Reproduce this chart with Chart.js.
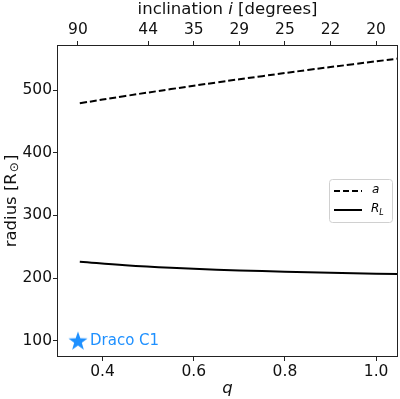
<!DOCTYPE html>
<html>
<head>
<meta charset="utf-8">
<script src="https://cdn.jsdelivr.net/npm/chart.js@4.4.0/dist/chart.umd.min.js"></script>
<style>
  html, body { margin: 0; padding: 0; background: #fff; }
  #wrap { width: 400px; height: 399px; }
</style>
</head>
<body>
<div id="wrap"><canvas id="myChart" width="400" height="399"></canvas></div>
<script>
// mass ratio q and the two radii (R_sun)
var qValues = [0.35, 0.45, 0.55, 0.65, 0.75, 0.85, 0.95, 1.05];
var aValues = [479, 490.6, 501.6, 512.2, 522.3, 532.1, 541.4, 550.5];
var rlValues = [226.0, 220.5, 216.4, 213.4, 211.1, 209.1, 207.6, 206.3];

// Draco C1 marker
var dracoQ = [0.346];
var dracoR = [100];

// tick labels
var xTicks = [0.4, 0.6, 0.8, 1.0];
var yTicks = [100, 200, 300, 400, 500];
var topTickQ = [0.346, 0.5, 0.6, 0.7, 0.8, 0.9, 1.0];
var topTickLabels = ['90', '44', '35', '29', '25', '22', '20'];

var FONT = "'DejaVu Sans', sans-serif";
var BLUE = '#1e90ff';

// filled star image for the point style
function makeStar(size, color) {
    var c = document.createElement('canvas');
    c.width = size; c.height = size;
    var g = c.getContext('2d');
    var cx = size / 2, cy = size / 2 + size * 0.04, R = size / 2, r = R * 0.4;
    g.beginPath();
    for (var k = 0; k < 10; k++) {
        var rad = k % 2 === 0 ? R : r;
        var ang = -Math.PI / 2 + k * Math.PI / 5;
        g.lineTo(cx + rad * Math.cos(ang), cy + rad * Math.sin(ang));
    }
    g.closePath();
    g.fillStyle = color;
    g.fill();
    return c;
}
var starImg = makeStar(20, BLUE);

function pts(xs, ys) {
    return xs.map(function (x, i) { return { x: x, y: ys[i] }; });
}

// draws frame, mixed-style titles, legend and the Draco label
var extras = {
    id: 'extras',
    afterDraw: function (chart) {
        var ctx = chart.ctx, ca = chart.chartArea;
        ctx.save();
        ctx.strokeStyle = '#222';
        ctx.lineWidth = 1;
        ctx.strokeRect(ca.left + 0.5, ca.top + 0.5, ca.right - ca.left - 1, ca.bottom - ca.top - 1);

        // top title
        ctx.fillStyle = '#111';
        ctx.textBaseline = 'middle';
        var parts = [['inclination ', ''], ['i', 'italic '], [' [degrees]', '']];
        var w = 0;
        parts.forEach(function (p) { ctx.font = p[1] + '16.5px ' + FONT; w += ctx.measureText(p[0]).width; });
        var x0 = (ca.left + ca.right) / 2 - w / 2;
        ctx.textAlign = 'left';
        parts.forEach(function (p) {
            ctx.font = p[1] + '16.5px ' + FONT;
            ctx.fillText(p[0], x0, 10);
            x0 += ctx.measureText(p[0]).width;
        });

        // y title
        ctx.save();
        ctx.translate(12, (ca.top + ca.bottom) / 2);
        ctx.rotate(-Math.PI / 2);
        ctx.font = '16.5px ' + FONT;
        var t1 = 'radius [R', t2 = '\u2299', t3 = ']';
        var w1 = ctx.measureText(t1).width, w3 = ctx.measureText(t3).width;
        ctx.font = '12px ' + FONT;
        var w2 = ctx.measureText(t2).width;
        var sx = -(w1 + w2 + w3 + 2) / 2;
        ctx.font = '16.5px ' + FONT;
        ctx.fillText(t1, sx, 0);
        ctx.font = '12px ' + FONT;
        ctx.fillText(t2, sx + w1 + 1, 3);
        ctx.font = '16.5px ' + FONT;
        ctx.fillText(t3, sx + w1 + w2 + 2, 0);
        ctx.restore();

        // legend
        var lx = 329, ly = 179, lw = 63, lh = 43;
        ctx.beginPath();
        ctx.roundRect(lx + 0.5, ly + 0.5, lw, lh, 3);
        ctx.fillStyle = 'rgba(255,255,255,0.8)';
        ctx.fill();
        ctx.strokeStyle = '#d0d0d0';
        ctx.stroke();
        ctx.strokeStyle = '#000';
        ctx.lineWidth = 2;
        ctx.setLineDash([6, 3]);
        ctx.beginPath(); ctx.moveTo(334, 191); ctx.lineTo(362, 191); ctx.stroke();
        ctx.setLineDash([]);
        ctx.beginPath(); ctx.moveTo(334, 210); ctx.lineTo(362, 210); ctx.stroke();
        ctx.fillStyle = '#000';
        ctx.font = 'italic 12px ' + FONT;
        ctx.fillText('a', 372, 190);
        ctx.fillText('R', 371, 209);
        var rw = ctx.measureText('R').width;
        ctx.font = 'italic 8px ' + FONT;
        ctx.fillText('L', 371 + rw, 213);

        // Draco C1 label
        var xs = chart.scales.x, ys = chart.scales.y;
        ctx.fillStyle = BLUE;
        ctx.font = '15px ' + FONT;
        ctx.fillText('Draco C1', xs.getPixelForValue(dracoQ[0]) + 12, ys.getPixelForValue(dracoR[0]));
        ctx.restore();
    }
};

function noPad(s) { s.paddingLeft = 0; s.paddingRight = 0; }

var ctx = document.getElementById('myChart').getContext('2d');
var myChart = new Chart(ctx, {
    type: 'scatter',
    data: {
        datasets: [{
            label: 'a',
            data: pts(qValues, aValues),
            showLine: true,
            borderColor: '#000',
            borderWidth: 2,
            borderDash: [7, 3],
            pointRadius: 0,
            tension: 0.4
        }, {
            label: 'R_L',
            data: pts(qValues, rlValues),
            showLine: true,
            borderColor: '#000',
            borderWidth: 2,
            pointRadius: 0,
            tension: 0.4
        }, {
            label: 'Draco C1',
            data: pts(dracoQ, dracoR),
            pointStyle: starImg,
            pointRadius: 10
        }]
    },
    options: {
        responsive: false,
        animation: false,
        layout: { autoPadding: false, padding: { left: 0, right: 2, top: 0, bottom: 0 } },
        plugins: { legend: { display: false }, tooltip: { enabled: false } },
        scales: {
            x: {
                type: 'linear',
                position: 'bottom',
                min: 0.30,
                max: 1.048,
                afterBuildTicks: function (s) { s.ticks = xTicks.map(function (v) { return { value: v }; }); },
                afterFit: function (s) { s.height = 42; noPad(s); },
                ticks: {
                    color: '#111',
                    font: { family: FONT, size: 15.5 },
                    padding: 2,
                    maxRotation: 0,
                    callback: function (v) { return v.toFixed(1); }
                },
                grid: { drawOnChartArea: false, tickLength: 4, color: '#222' },
                border: { display: false },
                title: {
                    display: true,
                    text: 'q',
                    color: '#111',
                    font: { family: FONT, size: 16.5, style: 'italic' },
                    padding: { top: 0, bottom: 0 }
                }
            },
            x2: {
                type: 'linear',
                position: 'top',
                min: 0.30,
                max: 1.048,
                afterBuildTicks: function (s) { s.ticks = topTickQ.map(function (v) { return { value: v }; }); },
                afterFit: function (s) { s.height = 45; noPad(s); },
                ticks: {
                    color: '#111',
                    font: { family: FONT, size: 15.5 },
                    padding: 2,
                    maxRotation: 0,
                    autoSkip: false,
                    callback: function (v, i) { return topTickLabels[i]; }
                },
                grid: { drawOnChartArea: false, tickLength: 4, color: '#222' },
                border: { display: false }
            },
            y: {
                type: 'linear',
                min: 74,
                max: 572,
                afterBuildTicks: function (s) { s.ticks = yTicks.map(function (v) { return { value: v }; }); },
                afterFit: function (s) { s.width = 57; s.paddingTop = 0; s.paddingBottom = 0; },
                ticks: {
                    color: '#111',
                    font: { family: FONT, size: 15.5 },
                    padding: 1
                },
                grid: { drawOnChartArea: false, tickLength: 4, color: '#222' },
                border: { display: false }
            }
        }
    },
    plugins: [extras]
});
</script>
</body>
</html>
